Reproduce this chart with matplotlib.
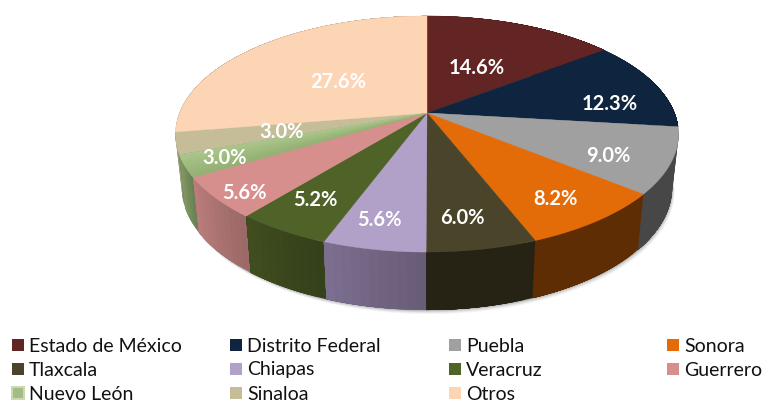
import numpy as np
import matplotlib
matplotlib.use("Agg")
import matplotlib.pyplot as plt
from matplotlib.colors import to_rgb
from matplotlib.patches import Rectangle

plt.rcParams['font.family'] = ['Lato', 'DejaVu Sans']

estados = ["Estado de México", "Distrito Federal", "Puebla", "Sonora", "Tlaxcala", "Chiapas",
           "Veracruz", "Guerrero", "Nuevo León", "Sinaloa", "Otros"]
valores = [14.6, 12.3, 9.0, 8.2, 6.0, 5.6, 5.2, 5.6, 3.0, 3.0, 27.6]
colores = ["#632523", "#0F243E", "#A0A0A0", "#E36C09", "#4A452A", "#B1A0C7",
           "#4F6228", "#D78F8D", "#94B073", "#C4BD97", "#FCD5B5"]
laterales = ["#3A1514", "#081525", "#474747", "#5E2D03", "#262214", "#7C6E8E",
             "#3F4D1F", "#B97D7B", "#7F9A63", "#A39E7E", "#C9A88E"]
# how far out along the slice each label sits (0 centre, 1 rim)
radio_etiqueta = [0.68, 0.80, 0.76, 0.70, 0.74, 0.72, 0.70, 0.78, 0.80, 0.62, 0.62]
# nudge of each label from that spot, in pixels
ajuste_x = [-17, -1, -2, 15, -3, -11, -15, -22, -12, 7, 20]
ajuste_y = [18, 14, 7, 14, 9, 14, 9, 16, 3, 1, 12]

# projection of the tilted pie, in image pixels
CX, CY = 427, 113
A, B, K = 247.5, 114.3, 0.178


def proyectar(theta, r=1.0):
    # theta clockwise from 12 o'clock
    w = 1 + K * r * np.cos(theta)
    return CX + A * r * np.sin(theta) / w, CY - B * r * np.cos(theta) / w


def abajo(x, y):
    # rim point moved down to the base of the pie
    return CX + (x - CX) * 0.975, CY + 52.4 + (y - CY) * 1.04


fig = plt.figure(figsize=(7.65, 4.01), dpi=100)
ax = fig.add_axes([0, 0, 1, 1])
ax.set_xlim(0, 765)
ax.set_ylim(401, 0)
ax.axis("off")

bordes = np.cumsum([0] + valores) / sum(valores) * 2 * np.pi

# soft shadow under the base
t = np.linspace(0, 2 * np.pi, 300)
bx, by = abajo(*proyectar(t))
for d, alpha in [(4, 0.05), (3, 0.07), (2, 0.10), (1, 0.14)]:
    ax.fill(bx + d * 0.6, by + d, color="#303030", alpha=alpha, lw=0)

# side walls, back ones first
orden = sorted(range(len(valores)), key=lambda i: -np.cos((bordes[i] + bordes[i + 1]) / 2))
for i in orden:
    n = max(int(valores[i] * 2), 3)
    ts = np.linspace(bordes[i], bordes[i + 1], n + 1)
    base = np.array(to_rgb(laterales[i]))
    izquierda = np.sin((bordes[i] + bordes[i + 1]) / 2) < 0
    # each strip runs on to the end of the slice, so no seams show between them
    for j in range(n):
        tt = np.linspace(ts[j], bordes[i + 1], 60)
        x, y = proyectar(tt)
        xb, yb = abajo(x, y)
        # walls left of centre get darker going right
        f = j / (n - 1)
        if izquierda:
            f = 1 - 0.16 * (1 - f)
        else:
            f = 1.0
        ax.fill(np.r_[x, xb[::-1]], np.r_[y, yb[::-1]], color=tuple(base * f), lw=0)

# top face
for i, color in enumerate(colores):
    tt = np.linspace(bordes[i], bordes[i + 1], 80)
    x, y = proyectar(tt)
    ax.fill(np.r_[CX, x], np.r_[CY, y], color=color, lw=0.3)

# Nuevo Leon gets lighter towards its upper edge
i = estados.index("Nuevo León")
oscuro = np.array(to_rgb(colores[i]))
claro = np.array(to_rgb("#AEC78E"))
for f in np.linspace(0, 1, 10)[1:]:
    tt = np.linspace(bordes[i] + f * (bordes[i + 1] - bordes[i]), bordes[i + 1], 10)
    x, y = proyectar(tt)
    ax.fill(np.r_[CX, x], np.r_[CY, y], color=tuple(oscuro + (claro - oscuro) * f), lw=0)

# percent labels
for i, v in enumerate(valores):
    x, y = proyectar((bordes[i] + bordes[i + 1]) / 2, radio_etiqueta[i])
    ax.text(x + ajuste_x[i], y + ajuste_y[i], f"{v:.1f}%", color="white", fontsize=14.5,
            fontweight="bold", ha="center", va="center")

# legend, filled row by row
col_x = [12, 230, 449, 667]
fila_y = [345, 369, 393]
for i, nombre in enumerate(estados):
    x0 = col_x[i % 4]
    y0 = fila_y[i // 4]
    if nombre == "Nuevo León":
        ax.add_patch(Rectangle((x0 - 1, y0 - 7), 14, 14, fc="#C9DAAE", ec="none"))
        ax.add_patch(Rectangle((x0 + 1, y0 - 5), 10, 10, fc="#A3BC85", ec="none"))
    else:
        ax.add_patch(Rectangle((x0, y0 - 6), 12, 12, fc=colores[i], ec="none"))
    ax.text(x0 + 17, y0 + 1, nombre, color="#111111", fontsize=14, ha="left", va="center")

fig.savefig("out.png", dpi=100)
